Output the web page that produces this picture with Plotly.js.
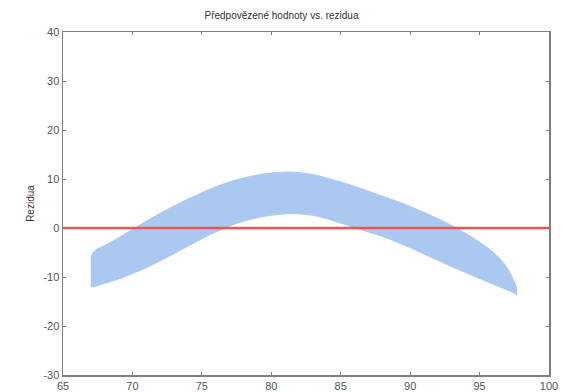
<!DOCTYPE html>
<html>
<head>
<meta charset="utf-8">
<script src="https://cdn.plot.ly/plotly-3.0.1.min.js"></script>
<style>html,body{margin:0;padding:0;background:#fff;}#chart{width:563px;height:392px;}</style>
</head>
<body>
<div id="chart"></div>
<script>
// Predicted values (x) with upper and lower edges of the residual band
const predicted = [67.0, 67.3, 68, 69, 70, 71, 72, 73, 74, 75, 76, 77, 78, 79, 80, 81, 82, 83, 84, 85, 86, 87, 88, 89, 90, 91, 92, 93, 94, 95, 96, 96.8, 97.2, 97.5, 97.7];
const residUpper = [-6.0, -4.6, -3.6, -2.0, -0.3, 1.4, 3.0, 4.5, 5.9, 7.2, 8.4, 9.4, 10.2, 10.8, 11.2, 11.4, 11.3, 10.9, 10.2, 9.4, 8.5, 7.5, 6.5, 5.5, 4.4, 3.2, 1.9, 0.5, -1.1, -2.9, -5.0, -7.4, -9.2, -11.0, -12.5];
const residLower = [-12.0, -11.9, -11.3, -10.4, -9.3, -8.1, -6.7, -5.2, -3.7, -2.2, -0.8, 0.4, 1.4, 2.1, 2.6, 2.9, 2.9, 2.6, 1.9, 1.0, 0.1, -0.8, -1.7, -2.8, -4.0, -5.3, -6.6, -7.9, -9.1, -10.3, -11.5, -12.4, -12.9, -13.3, -13.6];
const refLineY = 0;
const xTicks = [65, 70, 75, 80, 85, 90, 95, 100];
const yTicks = [-30, -20, -10, 0, 10, 20, 30, 40];

const bandColor = 'rgb(170,200,240)';
const traces = [
  {x: predicted, y: residLower, type: 'scatter', mode: 'lines',
   line: {color: bandColor, width: 1, shape: 'spline', smoothing: 1}, hoverinfo: 'skip', showlegend: false},
  {x: predicted, y: residUpper, type: 'scatter', mode: 'lines', fill: 'tonexty',
   fillcolor: bandColor, line: {color: bandColor, width: 1, shape: 'spline', smoothing: 1}, hoverinfo: 'skip', showlegend: false}
];

const axisCommon = {
  showgrid: false, zeroline: false, showline: true, linecolor: '#7f7f7f', linewidth: 1.5,
  mirror: 'allticks', ticks: 'inside', ticklen: 3, tickcolor: '#7f7f7f', tickwidth: 1,
  tickfont: {family: 'Liberation Sans, Arial, sans-serif', size: 11, color: '#555'}
};

const layout = {
  width: 563, height: 392,
  margin: {l: 63, r: 14, t: 32, b: 17},
  paper_bgcolor: '#fff', plot_bgcolor: '#fff',
  title: {text: 'Předpovězené hodnoty vs. rezidua', x: 0.5, xanchor: 'center', y: 0.96, yanchor: 'middle',
          font: {family: 'Liberation Sans, Arial, sans-serif', size: 10, color: '#333'}},
  xaxis: Object.assign({}, axisCommon, {range: [65, 100], tickvals: xTicks, ticktext: xTicks.map(String)}),
  yaxis: Object.assign({}, axisCommon, {range: [-30, 40], tickvals: yTicks, ticktext: yTicks.map(String),
    title: {text: 'Rezidua', standoff: 7, font: {family: 'Liberation Sans, Arial, sans-serif', size: 10, color: '#333'}}}),
  shapes: [{type: 'line', xref: 'paper', x0: 0, x1: 1, yref: 'y', y0: refLineY, y1: refLineY,
            line: {color: 'rgb(240,85,85)', width: 2.5}, layer: 'above'}]
};

Plotly.newPlot('chart', traces, layout, {displayModeBar: false, staticPlot: true});
</script>
</body>
</html>
